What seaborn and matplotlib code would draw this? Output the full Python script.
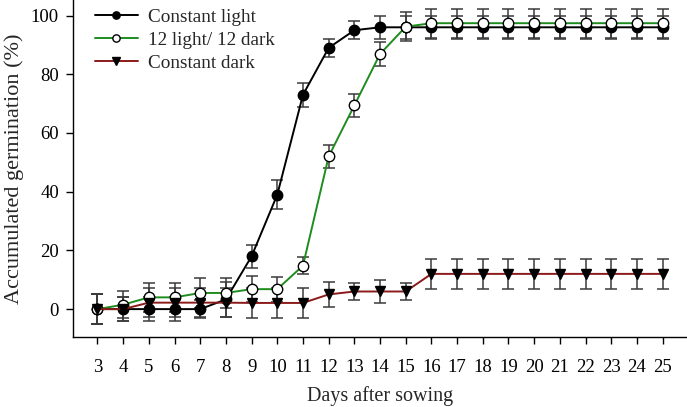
import numpy as np
import pandas as pd
import matplotlib
matplotlib.use("Agg")
import matplotlib.pyplot as plt
import seaborn as sns

days = list(range(3, 26))
light = [0, 0, 0, 0, 0, 3.3, 18, 39, 73, 89, 95, 96, 96,
         96, 96, 96, 96, 96, 96, 96, 96, 96, 96]
light_err = [5, 4, 4, 4, 3, 6, 4, 5, 4, 3, 3, 4, 4,
             4, 4, 4, 4, 4, 4, 4, 4, 4, 4]
cycle = [0, 1.5, 4, 4, 5.5, 5.5, 6.8, 6.8, 14.8, 52, 69.4, 86.9, 96.2,
         97.4, 97.4, 97.4, 97.4, 97.4, 97.4, 97.4, 97.4, 97.4, 97.4]
cycle_err = [5, 4.5, 5, 5, 5, 5, 4.4, 4.3, 3, 4, 4, 4, 5,
             5, 5, 5, 5, 5, 5, 5, 5, 5, 5]
dark = [0, 0, 2.2, 2.2, 2.2, 2.2, 2.1, 2.1, 2.1, 5, 6, 6, 6,
        12, 12, 12, 12, 12, 12, 12, 12, 12, 12]
dark_err = [5, 4, 5, 5, 5, 5, 5, 5, 5, 4.4, 2.8, 4, 2.8,
            5, 5, 5, 5, 5, 5, 5, 5, 5, 5]
series_names = ["Constant light", "12 light/ 12 dark", "Constant dark"]

df = pd.concat([
    pd.DataFrame({"day": days, "value": light, "err": light_err, "treatment": series_names[0]}),
    pd.DataFrame({"day": days, "value": cycle, "err": cycle_err, "treatment": series_names[1]}),
    pd.DataFrame({"day": days, "value": dark, "err": dark_err, "treatment": series_names[2]}),
], ignore_index=True)

sns.set_style("ticks")
plt.rcParams["font.family"] = ["Liberation Serif", "DejaVu Serif"]

fig = plt.figure(figsize=(6.87, 4.07), dpi=100)
ax = fig.add_axes([0.106, 0.172, 0.894, 0.828])

line_colors = {series_names[0]: "#000000", series_names[1]: "#1e8c1e", series_names[2]: "#8b1a1a"}
face_colors = {series_names[0]: "black", series_names[1]: "white", series_names[2]: "black"}
mk = {series_names[0]: "o", series_names[1]: "o", series_names[2]: "v"}

for name in series_names:
    sub = df[df["treatment"] == name]
    ax.errorbar(sub["day"], sub["value"], yerr=sub["err"], fmt="none",
                ecolor="#3a3a3a", elinewidth=1.1, capsize=4.5, capthick=1.1, zorder=2)

for i, name in enumerate(series_names):
    sub = df[df["treatment"] == name]
    sns.lineplot(data=sub, x="day", y="value", ax=ax, color=line_colors[name],
                 marker=mk[name], markersize=7.5, markerfacecolor=face_colors[name],
                 markeredgecolor="black", markeredgewidth=1.0, linewidth=1.4,
                 label=name, errorbar=None, zorder=3 + i)

ax.set_xlim(2.04, 25.95)
ax.set_ylim(-9.5, 105.3)
ax.set_xticks(days)
ax.set_xticklabels([str(d) for d in days])
ax.set_yticks([0, 20, 40, 60, 80, 100])
ax.tick_params(axis="both", direction="out", length=5, width=1, labelsize=13.5, colors="black")
ax.tick_params(axis="x", pad=11)
ax.tick_params(axis="y", pad=5)
ax.spines["top"].set_visible(False)
ax.spines["right"].set_visible(False)
for s in ["left", "bottom"]:
    ax.spines[s].set_linewidth(1.0)
    ax.spines[s].set_color("black")

ax.set_xlabel("Days after sowing", fontsize=14.5, labelpad=7)
ax.set_ylabel("Accumulated germination (%)", fontsize=16, labelpad=5)

leg = ax.legend(loc="upper left", bbox_to_anchor=(0.036, 0.976), frameon=False,
                borderaxespad=0, borderpad=0,
                fontsize=13.8, handlelength=2.25, labelspacing=0.3, handletextpad=0.52,
                markerscale=0.7)

fig.savefig("out.png", dpi=100)
